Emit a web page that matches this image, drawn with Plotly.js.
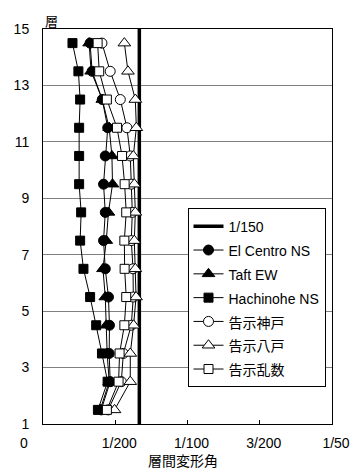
<!DOCTYPE html>
<html>
<head>
<meta charset="utf-8">
<script src="https://cdn.plot.ly/plotly-3.0.1.min.js"></script>
<style>html,body{margin:0;padding:0;background:#fff;}#chart{width:352px;height:469px;}</style>
</head>
<body>
<div id="chart"></div>
<script>
// Floors (marker positions, mid-storey)
const floors = [1.5, 2.5, 3.5, 4.5, 5.5, 6.5, 7.5, 8.5, 9.5, 10.5, 11.5, 12.5, 13.5, 14.5];

// Inter-storey drift angle per series
const elCentroNS = [0.00403, 0.00465, 0.00458, 0.00460, 0.00453, 0.00431, 0.00419, 0.00431, 0.00419, 0.00431, 0.00448, 0.00410, 0.00340, 0.00326];
const taftEW     = [0.00396, 0.00458, 0.00444, 0.00438, 0.00431, 0.00415, 0.00438, 0.00453, 0.00481, 0.00477, 0.00458, 0.00410, 0.00333, 0.00319];
const hachinoheNS= [0.00380, 0.00447, 0.00408, 0.00368, 0.00326, 0.00280, 0.00257, 0.00264, 0.00250, 0.00250, 0.00250, 0.00257, 0.00245, 0.00204];
const kokujiKobe = [0.00451, 0.00542, 0.00556, 0.00611, 0.00625, 0.00623, 0.00611, 0.00618, 0.00611, 0.00604, 0.00581, 0.00535, 0.00465, 0.00408];
const kokujiHachinohe = [0.00495, 0.00604, 0.00604, 0.00627, 0.00644, 0.00639, 0.00632, 0.00639, 0.00632, 0.00625, 0.00646, 0.00639, 0.00588, 0.00563];
const kokujiRandom = [0.00442, 0.00523, 0.00530, 0.00563, 0.00576, 0.00565, 0.00563, 0.00576, 0.00565, 0.00547, 0.00512, 0.00442, 0.00389, 0.00378];

// Limit line 1/150
const limitValue = 1 / 150;
const limitX = [limitValue, limitValue];
const limitY = [1, 15];

// Axis ticks
const xTickVals = [0, 0.005, 0.01, 0.015, 0.02];
const xTickText = ['', '1/200', '1/100', '3/200', '1/50'];
const yTickVals = [1, 3, 5, 7, 9, 11, 13, 15];

const seriesNames = ['1/150', 'El Centro NS', 'Taft EW', 'Hachinohe NS', '告示神戸', '告示八戸', '告示乱数'];
const xTitle = '層間変形角';
const yTitle = '層';

const FONT = 'Liberation Sans, Arial, "Noto Sans CJK JP", sans-serif';

function lg(name) { return '<span style="font-size:14px">' + name + '</span>'; }

function ser(name, x, symbol, filled, size) {
  return {
    type: 'scatter', mode: 'lines+markers', name: lg(name),
    x: x, y: floors,
    line: {color: '#000', width: 1},
    marker: {symbol: symbol, size: size, color: filled ? '#000' : '#fff',
             line: {color: '#000', width: 1}},
    cliponaxis: false
  };
}

const traces = [
  {type: 'scatter', mode: 'lines', name: lg(seriesNames[0]), x: limitX, y: limitY,
   line: {color: '#000', width: 3.5}},
  ser(seriesNames[1], elCentroNS, 'circle', true, 10),
  ser(seriesNames[2], taftEW, 'triangle-up', true, 11),
  ser(seriesNames[3], hachinoheNS, 'square', true, 9),
  ser(seriesNames[4], kokujiKobe, 'circle', false, 10),
  ser(seriesNames[5], kokujiHachinohe, 'triangle-up', false, 11),
  ser(seriesNames[6], kokujiRandom, 'square', false, 9)
];

const layout = {
  width: 352, height: 469,
  margin: {l: 43, r: 20, t: 29, b: 45},
  paper_bgcolor: '#fff', plot_bgcolor: '#fff',
  font: {family: FONT, size: 14, color: '#000'},
  showlegend: true,
  legend: {
    x: 0.5, y: 0.546, xanchor: 'left', yanchor: 'top',
    bgcolor: '#fff', bordercolor: '#000', borderwidth: 1,
    font: {family: FONT, size: 16, color: '#000'},
    tracegroupgap: 0
  },
  xaxis: {
    range: [0, 0.02], tickvals: xTickVals, ticktext: xTickText,
    ticks: 'inside', ticklen: 4, tickcolor: '#000', tickwidth: 1,
    showgrid: false, zeroline: false,
    showline: true, linecolor: '#000', linewidth: 1, mirror: true,
    ticklabelstandoff: 6, ticklabelshift: 4,
    tickfont: {family: FONT, size: 14, color: '#000'}
  },
  yaxis: {
    range: [1, 15], tickvals: yTickVals,
    ticks: '', showgrid: true, gridcolor: '#808080', gridwidth: 1,
    zeroline: false,
    showline: true, linecolor: '#000', linewidth: 1, mirror: true,
    ticklabelstandoff: 10,
    tickfont: {family: FONT, size: 14, color: '#000'}
  },
  annotations: [
    {text: '0', xref: 'paper', yref: 'paper', x: -0.066, y: -0.0481,
     xanchor: 'center', yanchor: 'middle', showarrow: false,
     font: {family: FONT, size: 14, color: '#000'}},
    {text: yTitle, xref: 'paper', yref: 'paper', x: 0.03, y: 1.02,
     xanchor: 'center', yanchor: 'middle', showarrow: false,
     font: {family: FONT, size: 13, color: '#000'}},
    {text: xTitle, xref: 'paper', yref: 'paper', x: 0.483, y: -0.0945,
     xanchor: 'center', yanchor: 'middle', showarrow: false,
     font: {family: FONT, size: 14, color: '#000'}}
  ]
};

Plotly.newPlot('chart', traces, layout, {displayModeBar: false, staticPlot: true});
</script>
</body>
</html>
